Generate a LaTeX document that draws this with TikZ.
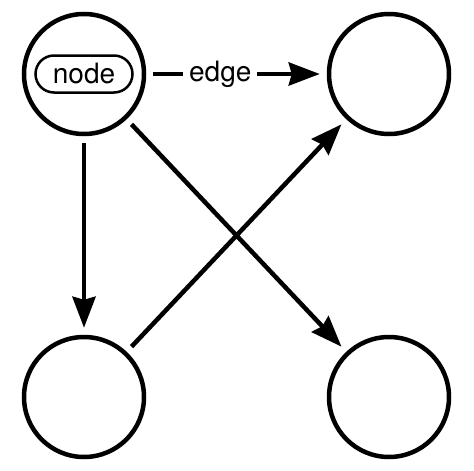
\documentclass[tikz,border=0pt]{standalone}
\usepackage{fontspec}
\setmainfont{TeX Gyre Heros}
\usetikzlibrary{arrows.meta,shapes.misc}
\tikzset{
  bigcirc/.style={circle,draw,line width=4.5pt,minimum size=120pt,inner sep=0pt},
  pill/.style={rounded rectangle,draw,line width=2.5pt,minimum width=97pt,minimum height=37pt,inner sep=0pt,font=\fontsize{28}{32}\selectfont},
  conn/.style={line width=4.5pt,shorten <=7pt,shorten >=7pt,-{Stealth[length=31pt,width=23pt,inset=3pt]}},
  elabel/.style={fill=white,inner sep=6pt,font=\fontsize{28}{32}\selectfont}
}
\begin{document}
\begin{tikzpicture}[x=1pt,y=-1pt]
\useasboundingbox[fill=white] (0,0) rectangle (474,471);
\node[bigcirc] (tl) at (84,74) {};
\node[bigcirc] (tr) at (389,74) {};
\node[bigcirc] (bl) at (84,397) {};
\node[bigcirc] (br) at (389,397) {};
\node[pill] (lbl) at (tl.center) {node};
\draw[conn] (tl) -- node[elabel,pos=0.41] {edge} (tr);
\draw[conn] (tl) -- (bl);
\draw[conn] (tl) -- (br);
\draw[conn] (bl) -- (tr);
\end{tikzpicture}
\end{document}
